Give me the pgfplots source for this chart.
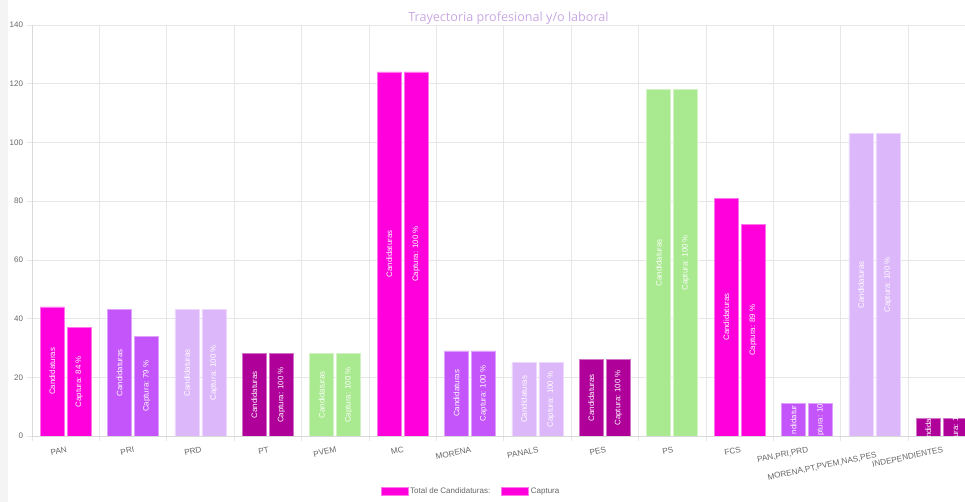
\documentclass[border=0pt]{standalone}
\usepackage{pgfplots}
\pgfplotsset{compat=1.18}
\usepackage{pgfplotstable}
\usepackage{fontspec}
\setmainfont{Liberation Sans}
\newfontfamily\titlefont{Open Sans}
\definecolor{cMag}{HTML}{FF00DD}
\definecolor{cPur}{HTML}{C355FA}
\definecolor{cLav}{HTML}{DCB8FA}
\definecolor{cDrk}{HTML}{AF009A}
\definecolor{cGrn}{HTML}{A9E98F}
\definecolor{tickgray}{HTML}{666666}
\definecolor{gridgray}{HTML}{E6E6E6}
\definecolor{axisgray}{HTML}{D9D9D9}
\definecolor{titlecol}{HTML}{C9A8E3}
\definecolor{stripcol}{HTML}{F4F4F4}

\pgfplotstableread{
x tot cap lt lc
0 44 37 Candidaturas {Captura: 84 \%}
1 43 34 Candidaturas {Captura: 79 \%}
2 43 43 Candidaturas {Captura: 100 \%}
3 28 28 Candidaturas {Captura: 100 \%}
4 28 28 Candidaturas {Captura: 100 \%}
5 124 124 Candidaturas {Captura: 100 \%}
6 29 29 Candidaturas {Captura: 100 \%}
7 25 25 Candidaturas {Captura: 100 \%}
8 26 26 Candidaturas {Captura: 100 \%}
9 118 118 Candidaturas {Captura: 100 \%}
10 81 72 Candidaturas {Captura: 89 \%}
11 11 11 ndidatur {ptura: 10}
12 103 103 Candidaturas {Captura: 100 \%}
13 6 6 ndidat {ura: 1}
}\labeltab

\newcommand{\barpair}[3]{%
\addplot[ybar, bar width=24pt, bar shift=-13.5pt, fill=#1, draw=#1!55!white, line width=0.6pt] coordinates {#2};
\addplot[ybar, bar width=24pt, bar shift=13.5pt, fill=#1, draw=#1!55!white, line width=0.6pt] coordinates {#3};
}

\begin{document}
\begin{tikzpicture}
\useasboundingbox (-32pt,-66pt) rectangle (933pt,436pt);
\fill[stripcol] (-32pt,-66pt) rectangle (-24pt,436pt);
\begin{axis}[
  scale only axis, width=933pt, height=411pt,
  at={(0pt,0pt)}, anchor=south west,
  xmin=-0.5, xmax=13.343, ymin=0, ymax=140,
  axis x line*=bottom, axis y line*=left,
  axis line style={draw=axisgray, line width=0.8pt, -},
  ytick={0,20,...,140},
  ymajorgrids, xmajorgrids,
  grid style={draw=gridgray, line width=0.6pt},
  xtick={-0.5,0.5,...,13.5}, xticklabels={},
  extra x ticks={0,1,...,13},
  extra x tick labels={PAN,PRI,PRD,PT,PVEM,MC,MORENA,PANALS,PES,PS,FCS,{PAN,PRI,PRD},{\raisebox{-5pt}[\height][\depth]{MORENA,PT,PVEM,NAS,PES}},INDEPENDIENTES},
  extra x tick style={grid=none, major tick length=0pt},
  tick align=outside, major tick length=5.5pt,
  tick style={draw=gridgray, line width=0.6pt},
  /pgf/number format/assume math mode=true,
  yticklabel style={font=\fontsize{8}{9}\selectfont, text=tickgray},
  xticklabel style={font=\fontsize{8.2}{9}\selectfont, text=tickgray, xshift=3pt, yshift=-6.5pt, rotate=12, anchor=north east},
  title={Trayectoria profesional y/o laboral},
  title style={at={(0.5107,1)}, anchor=base, yshift=-3pt, font=\titlefont\fontsize{12.6}{14}\selectfont, text=titlecol},
  legend style={at={(0.4705,-0.134)}, anchor=center, draw=none, fill=none,
    font=\fontsize{8}{9}\selectfont, text=tickgray,
    /tikz/every even column/.append style={column sep=9pt}},
  legend columns=2,
  legend image code/.code={\fill[#1] (0pt,-4pt) rectangle (27pt,4pt);},
  clip=true,
]
% magenta group: PAN, MC, FCS
\barpair{cMag}{(0,44) (5,124) (10,81)}{(0,37) (5,124) (10,72)}
\legend{Total de Candidaturas:, Captura}
% purple group: PRI, MORENA, PAN-PRI-PRD
\barpair{cPur}{(1,43) (6,29) (11,11)}{(1,34) (6,29) (11,11)}
% lavender group: PRD, PANALS, MORENA-PT-...
\barpair{cLav}{(2,43) (7,25) (12,103)}{(2,43) (7,25) (12,103)}
% dark magenta group: PT, PES, INDEPENDIENTES
\barpair{cDrk}{(3,28) (8,26) (13,6)}{(3,28) (8,26) (13,6)}
% green group: PVEM, PS
\barpair{cGrn}{(4,28) (9,118)}{(4,28) (9,118)}
% labels inside bars
\addplot[forget plot, only marks, mark=*, mark size=0pt, mark options={draw=none, fill=none},
  nodes near coords, point meta=explicit symbolic,
  every node near coord/.style={anchor=center, rotate=90, text=white, font=\fontsize{7.9}{9}\selectfont, inner sep=0pt}]
  table[x expr=\thisrow{x}-0.2003, y expr=\thisrow{tot}/2, meta=lt] {\labeltab};
\addplot[forget plot, only marks, mark=*, mark size=0pt, mark options={draw=none, fill=none},
  nodes near coords, point meta=explicit symbolic,
  every node near coord/.style={anchor=center, rotate=90, text=white, font=\fontsize{7.9}{9}\selectfont, inner sep=0pt}]
  table[x expr=\thisrow{x}+0.2003, y expr=\thisrow{cap}/2, meta=lc] {\labeltab};
\end{axis}
\end{tikzpicture}
\end{document}
